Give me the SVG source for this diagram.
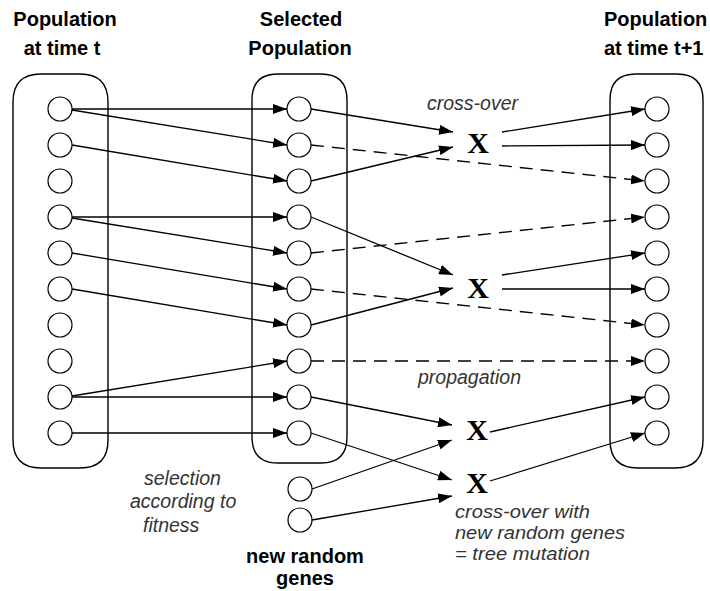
<svg xmlns="http://www.w3.org/2000/svg" width="710" height="591" viewBox="0 0 710 591">
<defs>
<marker id="ah" markerUnits="userSpaceOnUse" markerWidth="15" markerHeight="10" refX="14" refY="5" orient="auto">
<path d="M0,0 L14,5 L0,10 Z" fill="#000"/>
</marker>
<style>
.box{fill:none;stroke:#000;stroke-width:1.4}
.c{fill:#fff;stroke:#000;stroke-width:1.2}
.ln{fill:none;stroke:#000;stroke-width:1.3;marker-end:url(#ah)}
.ds{stroke-dasharray:13 8}
.hd{font-family:"Liberation Sans",Arial,sans-serif;font-weight:bold;font-size:20px;fill:#000}
.it{font-family:"Liberation Sans",Arial,sans-serif;font-style:italic;font-size:19.5px;fill:#333}
.its{font-family:"Liberation Sans",Arial,sans-serif;font-style:italic;font-size:18px;fill:#333}
.x{font-family:"Liberation Serif","Times New Roman",serif;font-weight:bold;font-size:30px;fill:#000}
</style>
</defs>
<rect width="710" height="591" fill="#fff"/>

<g id="labels">
<text class="hd" x="65" y="26" text-anchor="middle">Population</text>
<text class="hd" x="62" y="55" text-anchor="middle">at time t</text>
<text class="hd" x="301" y="26" text-anchor="middle">Selected</text>
<text class="hd" x="300" y="55" text-anchor="middle">Population</text>
<text class="hd" x="604" y="26">Population</text>
<text class="hd" x="604" y="55">at time t+1</text>
<text class="it" x="427" y="110">cross-over</text>
<text class="it" x="418" y="384">propagation</text>
<text class="it" x="144" y="485">selection</text>
<text class="it" x="130" y="508">according to</text>
<text class="it" x="143" y="532">fitness</text>
<text class="its" x="455" y="518" textLength="135" lengthAdjust="spacingAndGlyphs">cross-over with</text>
<text class="its" x="455" y="539" textLength="170" lengthAdjust="spacingAndGlyphs">new random genes</text>
<text class="its" x="455" y="560" textLength="135" lengthAdjust="spacingAndGlyphs">= tree mutation</text>
<text class="hd" x="305" y="563" text-anchor="middle">new random</text>
<text class="hd" x="305" y="585" text-anchor="middle">genes</text>
</g>

<g id="connectors">
<line class="ln" x1="72" y1="109" x2="287" y2="109"/>
<line class="ln" x1="72" y1="110" x2="287" y2="145"/>
<line class="ln" x1="72" y1="145" x2="287" y2="181"/>
<line class="ln" x1="72" y1="217" x2="287" y2="217"/>
<line class="ln" x1="72" y1="218" x2="287" y2="253"/>
<line class="ln" x1="72" y1="253" x2="287" y2="289"/>
<line class="ln" x1="72" y1="289" x2="287" y2="325"/>
<line class="ln" x1="72" y1="396" x2="287" y2="361"/>
<line class="ln" x1="72" y1="397" x2="287" y2="397"/>
<line class="ln" x1="72" y1="433" x2="287" y2="433"/>
<line class="ln" x1="311" y1="109" x2="453" y2="132"/>
<line class="ln" x1="311" y1="181" x2="453" y2="147"/>
<line class="ln" x1="311" y1="217" x2="453" y2="275"/>
<line class="ln" x1="311" y1="325" x2="453" y2="288"/>
<line class="ln" x1="311" y1="397" x2="452" y2="425"/>
<line class="ln" x1="312" y1="489" x2="452" y2="440"/>
<line class="ln" x1="311" y1="433" x2="452" y2="480"/>
<line class="ln" x1="312" y1="520" x2="452" y2="496"/>
<line class="ln ds" x1="311" y1="145" x2="645" y2="181"/>
<line class="ln ds" x1="311" y1="253" x2="645" y2="217"/>
<line class="ln ds" x1="311" y1="289" x2="645" y2="325"/>
<line class="ln ds" x1="311" y1="361" x2="645" y2="361"/>
<line class="ln" x1="502" y1="132" x2="645" y2="109"/>
<line class="ln" x1="502" y1="146" x2="645" y2="145"/>
<line class="ln" x1="502" y1="275" x2="645" y2="253"/>
<line class="ln" x1="502" y1="289" x2="645" y2="289"/>
<line class="ln" x1="490" y1="432" x2="645" y2="397"/>
<line class="ln" x1="490" y1="481" x2="645" y2="433"/>
</g>

<g id="pop-t">
<path class="box" d="M13,102 Q13,74 41,74 L80,74 Q108,74 108,102 L108,440 Q108,468 80,468 L41,468 Q13,468 13,440 Z"/>
<circle class="c" cx="60" cy="109" r="12"/>
<circle class="c" cx="60" cy="145" r="12"/>
<circle class="c" cx="60" cy="181" r="12"/>
<circle class="c" cx="60" cy="217" r="12"/>
<circle class="c" cx="60" cy="253" r="12"/>
<circle class="c" cx="60" cy="289" r="12"/>
<circle class="c" cx="60" cy="325" r="12"/>
<circle class="c" cx="60" cy="361" r="12"/>
<circle class="c" cx="60" cy="397" r="12"/>
<circle class="c" cx="60" cy="433" r="12"/>
</g>

<g id="selected">
<path class="box" d="M252,100 Q252,74 278,74 L321,74 Q347,74 347,100 L347,437 Q347,463 321,463 L278,463 Q252,463 252,437 Z"/>
<circle class="c" cx="299" cy="109" r="12"/>
<circle class="c" cx="299" cy="145" r="12"/>
<circle class="c" cx="299" cy="181" r="12"/>
<circle class="c" cx="299" cy="217" r="12"/>
<circle class="c" cx="299" cy="253" r="12"/>
<circle class="c" cx="299" cy="289" r="12"/>
<circle class="c" cx="299" cy="325" r="12"/>
<circle class="c" cx="299" cy="361" r="12"/>
<circle class="c" cx="299" cy="397" r="12"/>
<circle class="c" cx="299" cy="433" r="12"/>
</g>

<g id="new-genes">
<circle class="c" cx="300" cy="489" r="12"/>
<circle class="c" cx="300" cy="520" r="12"/>
</g>

<g id="pop-t1">
<path class="box" d="M610,100 Q610,74 636,74 L677,74 Q703,74 703,100 L703,440 Q703,468 675,468 L638,468 Q610,468 610,440 Z"/>
<circle class="c" cx="657" cy="109" r="12"/>
<circle class="c" cx="657" cy="145" r="12"/>
<circle class="c" cx="657" cy="181" r="12"/>
<circle class="c" cx="657" cy="217" r="12"/>
<circle class="c" cx="657" cy="253" r="12"/>
<circle class="c" cx="657" cy="289" r="12"/>
<circle class="c" cx="657" cy="325" r="12"/>
<circle class="c" cx="657" cy="361" r="12"/>
<circle class="c" cx="657" cy="397" r="12"/>
<circle class="c" cx="657" cy="433" r="12"/>
</g>

<g id="x1"><text class="x" x="478" y="153" text-anchor="middle">X</text></g>
<g id="x2"><text class="x" x="478" y="298" text-anchor="middle">X</text></g>
<g id="x3"><text class="x" x="477" y="440" text-anchor="middle">X</text></g>
<g id="x4"><text class="x" x="477" y="493" text-anchor="middle">X</text></g>
</svg>
